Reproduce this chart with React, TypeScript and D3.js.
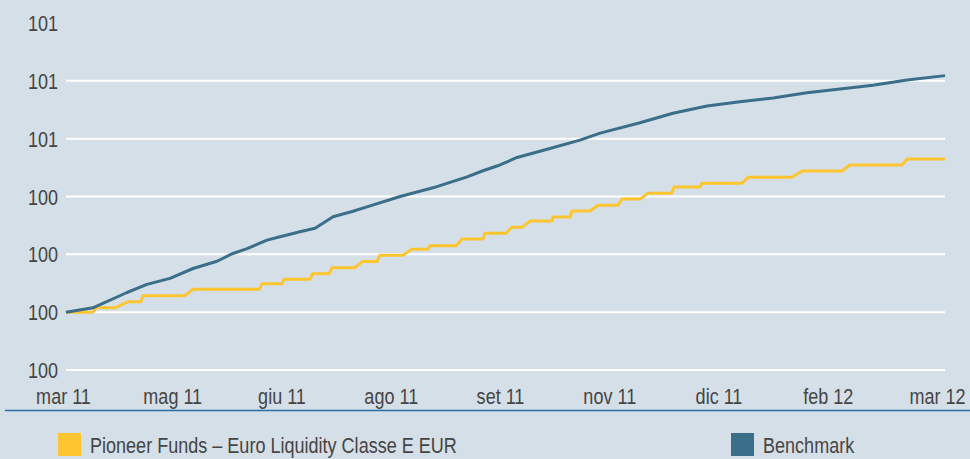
import * as d3 from 'd3';

// x positions are days since 21 mar 2011
const fundDays = [0, 11.2, 12.5, 20.4, 25.8, 31.2, 32, 49.5, 52.9, 80.4, 81.6, 89.9, 90.8, 101.6, 102.8, 109.5, 110.8, 120.3, 123.3, 129.5, 130.7, 140.3, 144, 150.7, 151.6, 162.4, 164.9, 173.6, 174.5, 183.2, 185.7, 189.9, 193.2, 202.4, 202.8, 209.9, 210.7, 218.2, 221.5, 229.8, 231.5, 239, 242.3, 252.3, 253.2, 264, 264.8, 281.5, 284, 302.3, 306.5, 323.1, 326.4, 348.1, 350.2, 366];
const fundValues = [100.0, 100.0, 100.015, 100.015, 100.036, 100.036, 100.057, 100.057, 100.079, 100.079, 100.098, 100.098, 100.114, 100.114, 100.133, 100.133, 100.154, 100.154, 100.175, 100.175, 100.197, 100.197, 100.218, 100.218, 100.23, 100.23, 100.253, 100.253, 100.273, 100.273, 100.294, 100.294, 100.315, 100.315, 100.329, 100.329, 100.35, 100.35, 100.37, 100.37, 100.391, 100.391, 100.411, 100.411, 100.433, 100.433, 100.446, 100.446, 100.467, 100.467, 100.488, 100.488, 100.509, 100.509, 100.53, 100.53];

const benchDays = [0, 11.2, 25.4, 33.7, 43.3, 52.9, 62.9, 69.5, 75.4, 83.7, 87.9, 97.4, 103.7, 111.2, 119.5, 125.3, 139.1, 152.8, 167, 173.6, 180.7, 187.8, 201.5, 214, 222.4, 239, 252.7, 266.9, 280.6, 294.4, 308.5, 322.3, 336, 350.2, 366];
const benchValues = [100.0, 100.015, 100.068, 100.096, 100.117, 100.151, 100.176, 100.203, 100.22, 100.249, 100.258, 100.278, 100.29, 100.33, 100.349, 100.364, 100.4, 100.43, 100.468, 100.489, 100.509, 100.535, 100.566, 100.595, 100.619, 100.655, 100.688, 100.713, 100.728, 100.741, 100.759, 100.772, 100.785, 100.803, 100.818];

const xTickLabels = ['mar 11', 'mag 11', 'giu 11', 'ago 11', 'set 11', 'nov 11', 'dic 11', 'feb 12', 'mar 12'];
const yTicks = [99.8, 100.0, 100.2, 100.4, 100.6, 100.8, 101.0];

const seriesNames = ['Pioneer Funds – Euro Liquidity Classe E EUR', 'Benchmark'];
const seriesColors = ['#fdc530', '#3a6e89'];

const textColor = '#454545';

// Liberation Sans squeezed horizontally, to look like the narrow face of the original
function Narrow({ x, y, anchor = 'start', children }: { x: number; y: number; anchor?: string; children: any }) {
  return (
    <g transform={`translate(${x},${y}) scale(0.82,1)`}>
      <text x={0} y={0} textAnchor={anchor} fontSize={22} fill={textColor}
        fontFamily="'Liberation Sans', Arial, sans-serif">{children}</text>
    </g>
  );
}

export default function App() {
  const width = 970;
  const height = 459;

  const x = d3.scaleLinear().domain([0, 366]).range([66, 945]);
  const y = d3.scaleLinear().domain([99.8, 101.0]).range([370, 23]);
  const xLab = d3.scalePoint<string>().domain(xTickLabels).range([63.5, 937.5]);

  const fundPath = d3.line<number>()
    .x((_, i) => x(fundDays[i]))
    .y(d => y(d))(fundValues);
  const benchPath = d3.line<number>()
    .x((_, i) => x(benchDays[i]))
    .y(d => y(d))(benchValues);

  return (
    <svg width={width} height={height} style={{ position: 'absolute', left: 0, top: 0 }}>
      <rect width={width} height={height} fill="#d5dfe7" />
      {yTicks.map((t, i) => (
        <g key={i}>
          {t < 101.0 && (
            <line x1={66} x2={945} y1={y(t)} y2={y(t)} stroke="#ffffff" strokeWidth={2} />
          )}
          <Narrow x={58} y={y(t) + 8} anchor="end">{d3.format('.0f')(t)}</Narrow>
        </g>
      ))}
      <path d={fundPath || ''} fill="none" stroke={seriesColors[0]} strokeWidth={3} strokeLinejoin="round" />
      <path d={benchPath || ''} fill="none" stroke={seriesColors[1]} strokeWidth={3} strokeLinejoin="round" />
      {xTickLabels.map(l => (
        <Narrow key={l} x={xLab(l) as number} y={404} anchor="middle">{l}</Narrow>
      ))}
      <line x1={5} x2={970} y1={410.5} y2={410.5} stroke="#2b6ea6" strokeWidth={1.5} />
      <rect x={58} y={433} width={23} height={23} fill={seriesColors[0]} />
      <Narrow x={90} y={453}>{seriesNames[0]}</Narrow>
      <rect x={731} y={433} width={23} height={23} fill={seriesColors[1]} />
      <Narrow x={763} y={453}>{seriesNames[1]}</Narrow>
    </svg>
  );
}
